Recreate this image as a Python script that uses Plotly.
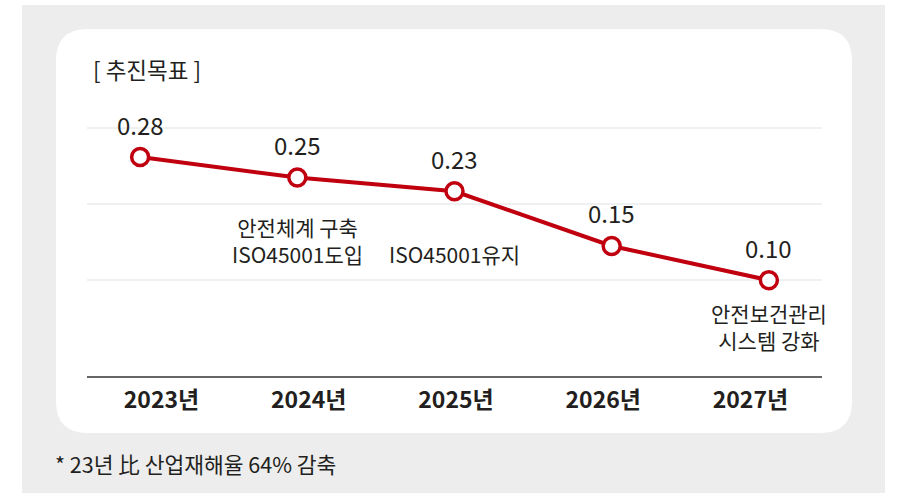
import plotly.graph_objects as go

years = ["2023년", "2024년", "2025년", "2026년", "2027년"]
values = [0.28, 0.25, 0.23, 0.15, 0.10]
value_labels = ["0.28", "0.25", "0.23", "0.15", "0.10"]
notes = {"2024년": "안전체계 구축<br>ISO45001도입",
         "2025년": "ISO45001유지",
         "2027년": "안전보건관리<br>시스템 강화"}
title_text = "[ 추진목표 ]"
footnote = "* 23년 比 산업재해율 64% 감축"
grid_vals = [0.1, 0.211, 0.322]

W, H = 899, 493
L, R, T, B = 87, 822, 100, 376
RED = "#c0000f"
TXT = "#231f20"
FONT = "Noto Sans CJK KR"


def px(x):
    return (x - L) / (R - L)


def py(y):
    return (B - y) / (B - T)


def rounded(x0, y0, x1, y1, r):
    X0, X1, Y0, Y1 = px(x0), px(x1), py(y0), py(y1)
    rx, ry = r / (R - L), r / (B - T)
    return (f"M {X0+rx},{Y0} L {X1-rx},{Y0} Q {X1},{Y0} {X1},{Y0-ry} "
            f"L {X1},{Y1+ry} Q {X1},{Y1} {X1-rx},{Y1} L {X0+rx},{Y1} "
            f"Q {X0},{Y1} {X0},{Y1+ry} L {X0},{Y0-ry} Q {X0},{Y0} {X0+rx},{Y0} Z")


fig = go.Figure()
fig.add_trace(go.Scatter(
    x=years, y=values, mode="lines+markers",
    line=dict(color=RED, width=4),
    marker=dict(size=17, color="white", line=dict(color=RED, width=3.5)),
    hoverinfo="skip", showlegend=False, cliponaxis=False,
))
# invisible companion trace that carries the category labels axis
fig.add_trace(go.Scatter(
    x=years, y=values, xaxis="x2", mode="markers",
    marker=dict(opacity=0, size=1), hoverinfo="skip", showlegend=False,
))

shapes = [
    dict(type="rect", xref="paper", yref="paper", x0=px(22), x1=px(885), y0=py(5), y1=py(493),
         fillcolor="#ededed", line=dict(width=0), layer="below"),
    dict(type="path", xref="paper", yref="paper", path=rounded(56, 29, 852, 433, 32),
         fillcolor="white", line=dict(width=0), layer="below"),
]

annotations = []
for yr, v, lab in zip(years, values, value_labels):
    annotations.append(dict(x=yr, y=v, xref="x", yref="y", text=lab, showarrow=False,
                            yshift=33, font=dict(family=FONT, size=24, color=TXT)))

note_y = {"2024년": 240, "2025년": 254, "2027년": 326}
for yr, txt in notes.items():
    annotations.append(dict(x=yr, y=py(note_y[yr]), xref="x", yref="paper", text=txt,
                            showarrow=False, yanchor="middle",
                            font=dict(family=FONT, size=21, color=TXT)))

annotations.append(dict(x=px(91), y=py(69), xref="paper", yref="paper", text=title_text,
                        showarrow=False, xanchor="left", yanchor="middle",
                        font=dict(family=FONT, size=22.5, color=TXT)))
annotations.append(dict(x=px(53), y=py(463), xref="paper", yref="paper", text=footnote,
                        showarrow=False, xanchor="left", yanchor="middle",
                        font=dict(family=FONT, size=21.5, color=TXT)))

fig.update_layout(
    width=W, height=H,
    margin=dict(l=L, r=W - R, t=T, b=H - B),
    paper_bgcolor="white", plot_bgcolor="rgba(0,0,0,0)",
    shapes=shapes, annotations=annotations,
    xaxis=dict(type="category", range=[-0.338, 4.338], showgrid=False, zeroline=False,
               showline=True, linecolor="#666666", linewidth=1.5,
               showticklabels=False, ticks="", fixedrange=True),
    xaxis2=dict(type="category", overlaying="x", anchor="y", side="bottom",
                range=[-0.506, 4.486],
                showgrid=False, zeroline=False, showline=False, ticks="",
                tickfont=dict(family=FONT, size=23, color=TXT, weight="bold"),
                ticklabelstandoff=8, fixedrange=True),
    yaxis=dict(range=[-0.0401, 0.3634], tickvals=grid_vals, showticklabels=False,
               showgrid=True, gridcolor="#f0f0f0", gridwidth=2, zeroline=False,
               showline=False, fixedrange=True),
    font=dict(family=FONT),
)

fig.write_html("out.html", config={"displayModeBar": False},
               post_script="document.body.style.margin='0';document.body.style.padding='0';"
                           "document.body.style.overflow='hidden';")
